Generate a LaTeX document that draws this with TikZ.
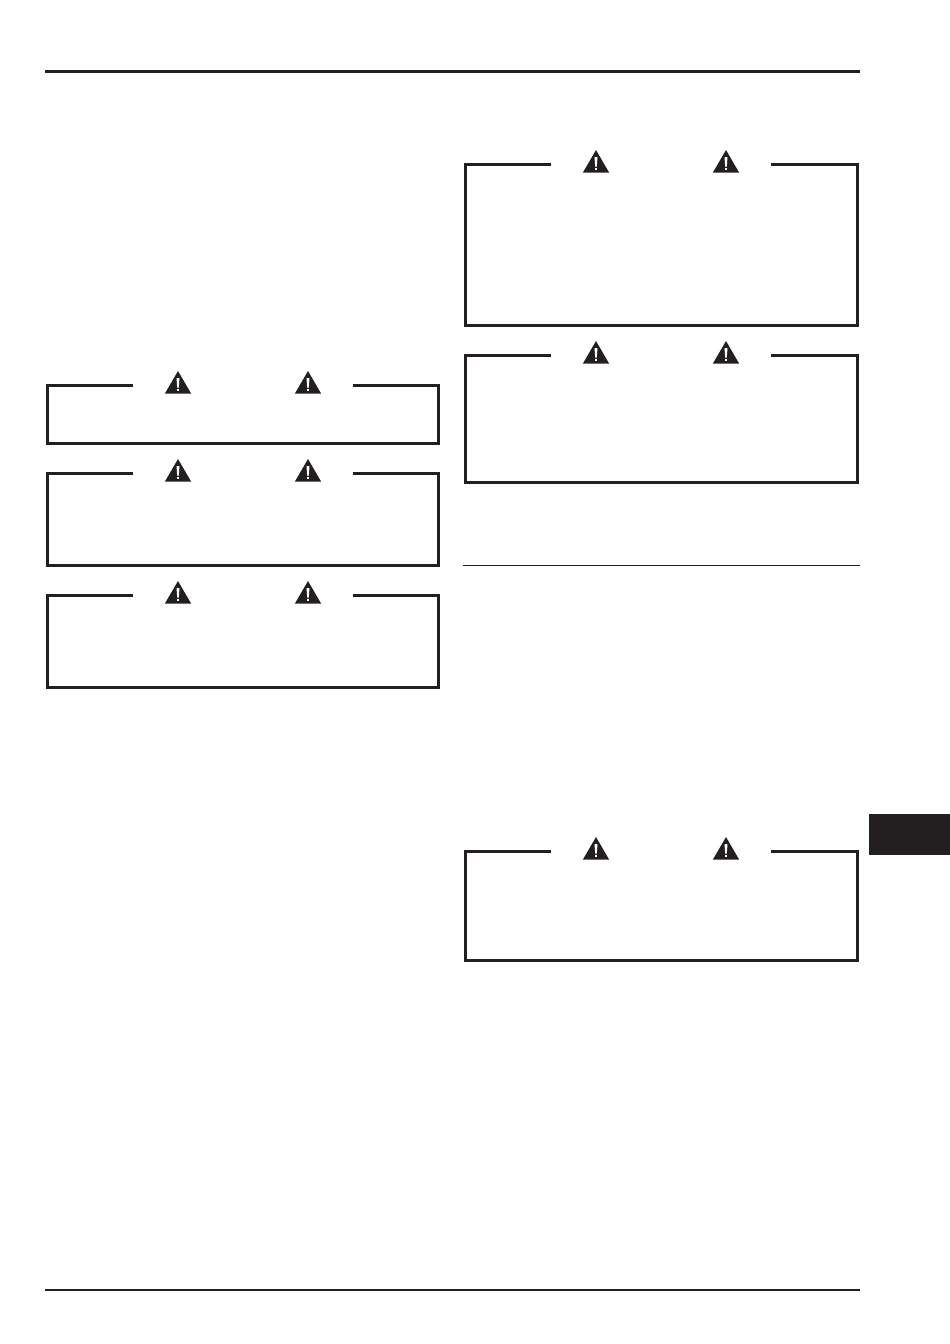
\documentclass[tikz,border=0pt]{standalone}
\usepackage{xcolor}
\definecolor{inkblack}{HTML}{231F20}
\tikzset{
	boxline/.style={inkblack, line width=3pt},
	pagerule/.style={inkblack, line width=3pt},
	warnsign/.style={fill=inkblack},
	warnmark/.style={fill=white}
}
\begin{document}
\begin{tikzpicture}[x=1pt, y=-1pt]
	% Define constants
	\def\gapA{85.5}  % Left end of the gap in the top edge
	\def\gapB{305.5} % Right end of the gap in the top edge
	
	% Page size
	\useasboundingbox (0,0) rectangle (950,1344);
	\fill[white] (0,0) rectangle (950,1344);
	
	% Header and footer rules
	\draw[pagerule] (45,71) -- (860,71);
	\draw[pagerule, line width=2pt] (45,1290) -- (860,1290);
	
	% Thin rule in the right column
	\draw[inkblack, line width=1pt] (463,565.5) -- (860,565.5);
	
	% Chapter tab
	\fill[inkblack] (868.7,814) rectangle (950,855);
	
	% Warning boxes (left, right, top, bottom)
	\foreach \xl/\xr/\yt/\yb in {47.5/438.8/385/443, 47.5/438.8/473/565, 47.5/438.8/595/687, 465.5/857.7/164/325, 465.5/857.7/355/482, 465.5/857.7/851/960} {
		\draw[boxline] (\xl+\gapA,\yt) -- (\xl,\yt) -- (\xl,\yb) -- (\xr,\yb) -- (\xr,\yt) -- (\xl+\gapB,\yt);
		
		% Two warning signs in the gap
		\foreach \dx in {130.5, 260.5} {
			\fill[warnsign] (\xl+\dx,\yt-14) -- (\xl+\dx+13.2,\yt+8.7) -- (\xl+\dx-13.2,\yt+8.7) -- cycle;
			\fill[warnmark] (\xl+\dx-1.5,\yt-7) -- (\xl+\dx+1.5,\yt-7) -- (\xl+\dx+0.8,\yt+2.5) -- (\xl+\dx-0.8,\yt+2.5) -- cycle;
			\fill[warnmark] (\xl+\dx-1.1,\yt+3.7) rectangle (\xl+\dx+1.1,\yt+6.2);
		}
	}
	
\end{tikzpicture}
\end{document}
